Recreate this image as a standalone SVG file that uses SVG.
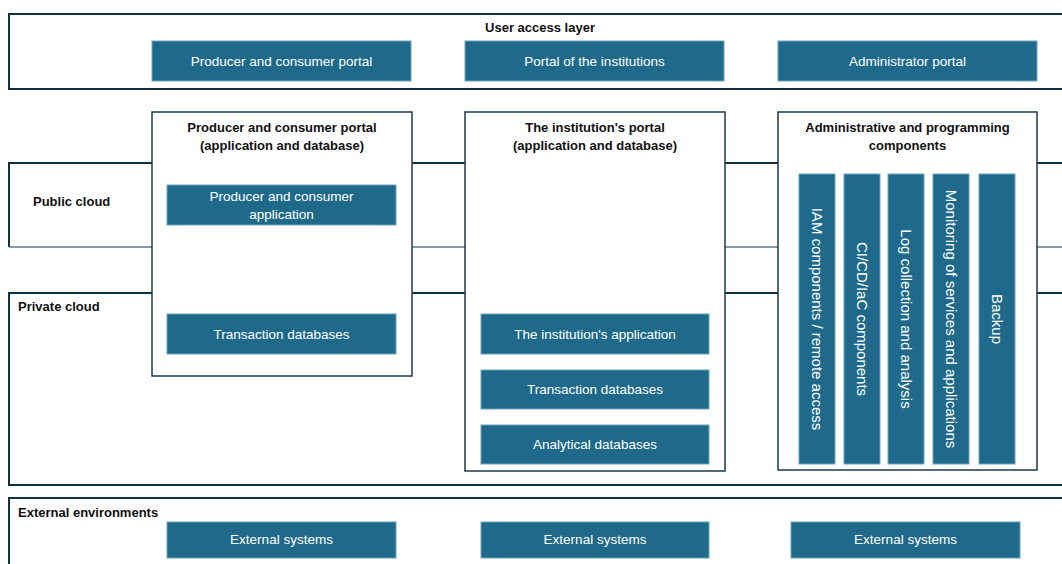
<svg xmlns="http://www.w3.org/2000/svg" width="1062" height="564" viewBox="0 0 1062 564">
<style>
.frame{fill:none;stroke:#12303f;stroke-width:2}
.band{fill:none;stroke:#12303f;stroke-width:2}
.band2{fill:none;stroke:#5d7886;stroke-width:1.5}
.node{fill:#ffffff;stroke:#1d3a4a;stroke-width:1.5}
.blue{fill:#1f6a8a;stroke:#6fa3bb;stroke-width:1}
.t{font-family:"Liberation Sans",Arial,sans-serif;font-size:13px;dominant-baseline:central}
.b{font-weight:bold;fill:#111}
.w{fill:#ffffff;text-anchor:middle;font-size:13.5px}
.v{font-size:15px}
.c{text-anchor:middle}
</style>
<rect width="1062" height="564" fill="#ffffff"/>

<g id="connectors">
  <polyline class="band" points="1070,163 9,163 9,247"/>
  <line class="band2" x1="9" y1="247" x2="1070" y2="247"/>
  <polyline class="band" points="1070,293 9,293 9,485 1070,485"/>
</g>

<g id="user-access-layer">
  <rect class="frame" x="9" y="14" width="1070" height="75"/>
  <text class="t b c" x="540" y="27">User access layer</text>
  <rect class="blue" x="152" y="41" width="259" height="40"/>
  <text class="t w" x="281.5" y="61">Producer and consumer portal</text>
  <rect class="blue" x="465" y="41" width="259" height="40"/>
  <text class="t w" x="594.5" y="61">Portal of the institutions</text>
  <rect class="blue" x="778" y="41" width="259" height="40"/>
  <text class="t w" x="907.5" y="61">Administrator portal</text>
</g>

<g id="public-cloud">
  <text class="t b" x="33" y="201">Public cloud</text>
</g>
<g id="private-cloud">
  <text class="t b" x="18" y="306">Private cloud</text>
</g>

<g id="producer-consumer-portal">
  <rect class="node" x="152" y="112" width="260" height="264"/>
  <text class="t b c" x="282" y="127">Producer and consumer portal</text>
  <text class="t b c" x="282" y="145">(application and database)</text>
  <rect class="blue" x="167" y="185" width="229" height="40"/>
  <text class="t w" x="281.5" y="196">Producer and consumer</text>
  <text class="t w" x="281.5" y="214">application</text>
  <rect class="blue" x="167" y="314" width="229" height="40"/>
  <text class="t w" x="281.5" y="334">Transaction databases</text>
</g>

<g id="institution-portal">
  <rect class="node" x="465" y="112" width="260" height="359"/>
  <text class="t b c" x="595" y="127">The institution's portal</text>
  <text class="t b c" x="595" y="145">(application and database)</text>
  <rect class="blue" x="481" y="314" width="228" height="40"/>
  <text class="t w" x="595" y="334">The institution's application</text>
  <rect class="blue" x="481" y="370" width="228" height="39"/>
  <text class="t w" x="595" y="389.5">Transaction databases</text>
  <rect class="blue" x="481" y="425" width="228" height="39"/>
  <text class="t w" x="595" y="444.5">Analytical databases</text>
</g>

<g id="admin-components">
  <rect class="node" x="778" y="112" width="259" height="358"/>
  <text class="t b c" x="907.5" y="127">Administrative and programming</text>
  <text class="t b c" x="907.5" y="145">components</text>
  <rect class="blue" x="799" y="174" width="36" height="290"/>
  <text class="t w v" transform="translate(817,319) rotate(90)">IAM components / remote access</text>
  <rect class="blue" x="844" y="174" width="36" height="290"/>
  <text class="t w v" transform="translate(862,319) rotate(90)">CI/CD/IaC components</text>
  <rect class="blue" x="888" y="174" width="36" height="290"/>
  <text class="t w v" transform="translate(906,319) rotate(90)">Log collection and analysis</text>
  <rect class="blue" x="933" y="174" width="36" height="290"/>
  <text class="t w v" transform="translate(951,319) rotate(90)">Monitoring of services and applications</text>
  <rect class="blue" x="979" y="174" width="36" height="290"/>
  <text class="t w v" transform="translate(997,319) rotate(90)">Backup</text>
</g>

<g id="external-environments">
  <rect class="frame" x="9" y="498" width="1070" height="80"/>
  <text class="t b" x="18" y="512">External environments</text>
  <rect class="blue" x="167" y="522" width="229" height="36"/>
  <text class="t w" x="281.5" y="539">External systems</text>
  <rect class="blue" x="481" y="522" width="228" height="36"/>
  <text class="t w" x="595" y="539">External systems</text>
  <rect class="blue" x="791" y="522" width="229" height="36"/>
  <text class="t w" x="905.5" y="539">External systems</text>
</g>
</svg>
